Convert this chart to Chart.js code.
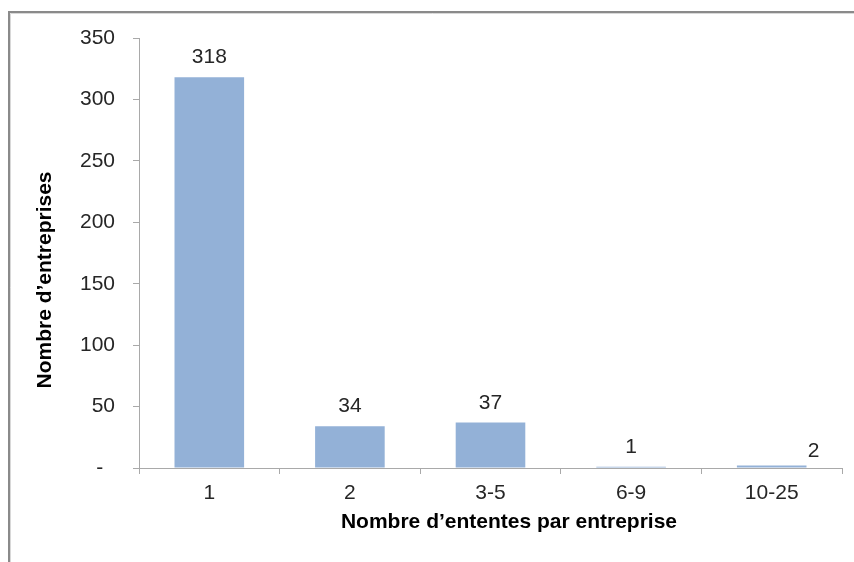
<!DOCTYPE html>
<html lang="fr">
<head>
  <meta charset="UTF-8" />
  <title>Nombre d'ententes par entreprise</title>
  <script src="https://cdn.jsdelivr.net/npm/chart.js@4"></script>
  <style>
    body { margin: 0; background: #fff; }
    #wrap { width: 854px; height: 562px; position: relative; }
  </style>
</head>
<body>
  <div id="wrap"><canvas id="chart"></canvas></div>

  <script>
    const categories = ["1", "2", "3-5", "6-9", "10-25"];
    const counts = [318, 34, 37, 1, 2];
    const yTicks = [0, 50, 100, 150, 200, 250, 300, 350];

    const FONT = "Arial, 'Liberation Sans', sans-serif";
    const AXIS = "#a9a9a9";

    // frame + axis titles + value labels
    const extras = {
      id: "extras",
      beforeDraw(chart) {
        const c = chart.ctx;
        c.save();
        c.strokeStyle = "#8a8a8a";
        c.lineWidth = 2;
        c.beginPath();
        c.moveTo(9, 562);
        c.lineTo(9, 12);
        c.lineTo(854, 12);
        c.stroke();
        c.strokeStyle = "#d8d8d8";
        c.lineWidth = 1;
        c.beginPath();
        c.moveTo(10.5, 562);
        c.lineTo(10.5, 13.5);
        c.lineTo(854, 13.5);
        c.stroke();
        c.restore();
      },
      afterDraw(chart) {
        const c = chart.ctx;
        c.save();
        c.fillStyle = "#000";
        c.font = "bold 21px " + FONT;
        c.textAlign = "center";
        c.textBaseline = "middle";
        c.fillText("Nombre d’ententes par entreprise", 509, 522);
        c.translate(45, 280);
        c.rotate(-Math.PI / 2);
        c.fillText("Nombre d’entreprises", 0, 0);
        c.restore();

        c.save();
        c.fillStyle = "#262626";
        c.font = "21px " + FONT;
        c.textAlign = "center";
        c.textBaseline = "alphabetic";
        chart.getDatasetMeta(0).data.forEach((bar, i) => {
          let dx = 0, dy = 0;
          if (i === 4) { dx = 42; dy = 5; }
          c.fillText(String(counts[i]), bar.x + dx, bar.y - 14 + dy);
        });
        c.restore();
      }
    };

    new Chart(document.getElementById("chart"), {
      type: "bar",
      data: {
        labels: categories,
        datasets: [{
          data: counts,
          backgroundColor: "#93b1d7",
          borderWidth: 0,
          categoryPercentage: 1,
          barPercentage: 0.495
        }]
      },
      options: {
        responsive: true,
        maintainAspectRatio: false,
        animation: false,
        layout: { padding: { left: 0, right: 12, top: 38, bottom: 0 } },
        plugins: {
          legend: { display: false },
          tooltip: { enabled: false }
        },
        scales: {
          x: {
            afterFit(scale) { scale.height = 94; },
            border: { color: AXIS, width: 1 },
            grid: { offset: true, drawOnChartArea: false, color: AXIS, tickLength: 6 },
            ticks: { color: "#262626", font: { family: FONT, size: 21 }, padding: 7 }
          },
          y: {
            min: 0,
            max: 350,
            afterFit(scale) { scale.width = 139; },
            afterBuildTicks(scale) { scale.ticks = yTicks.map(v => ({ value: v })); },
            border: { color: AXIS, width: 1 },
            grid: { drawOnChartArea: false, color: AXIS, tickLength: 6 },
            ticks: {
              color: "#262626",
              font: { family: FONT, size: 21 },
              padding: 18,
              callback: v => (v === 0 ? "-  " : String(v))
            }
          }
        }
      },
      plugins: [extras]
    });
  </script>
</body>
</html>
